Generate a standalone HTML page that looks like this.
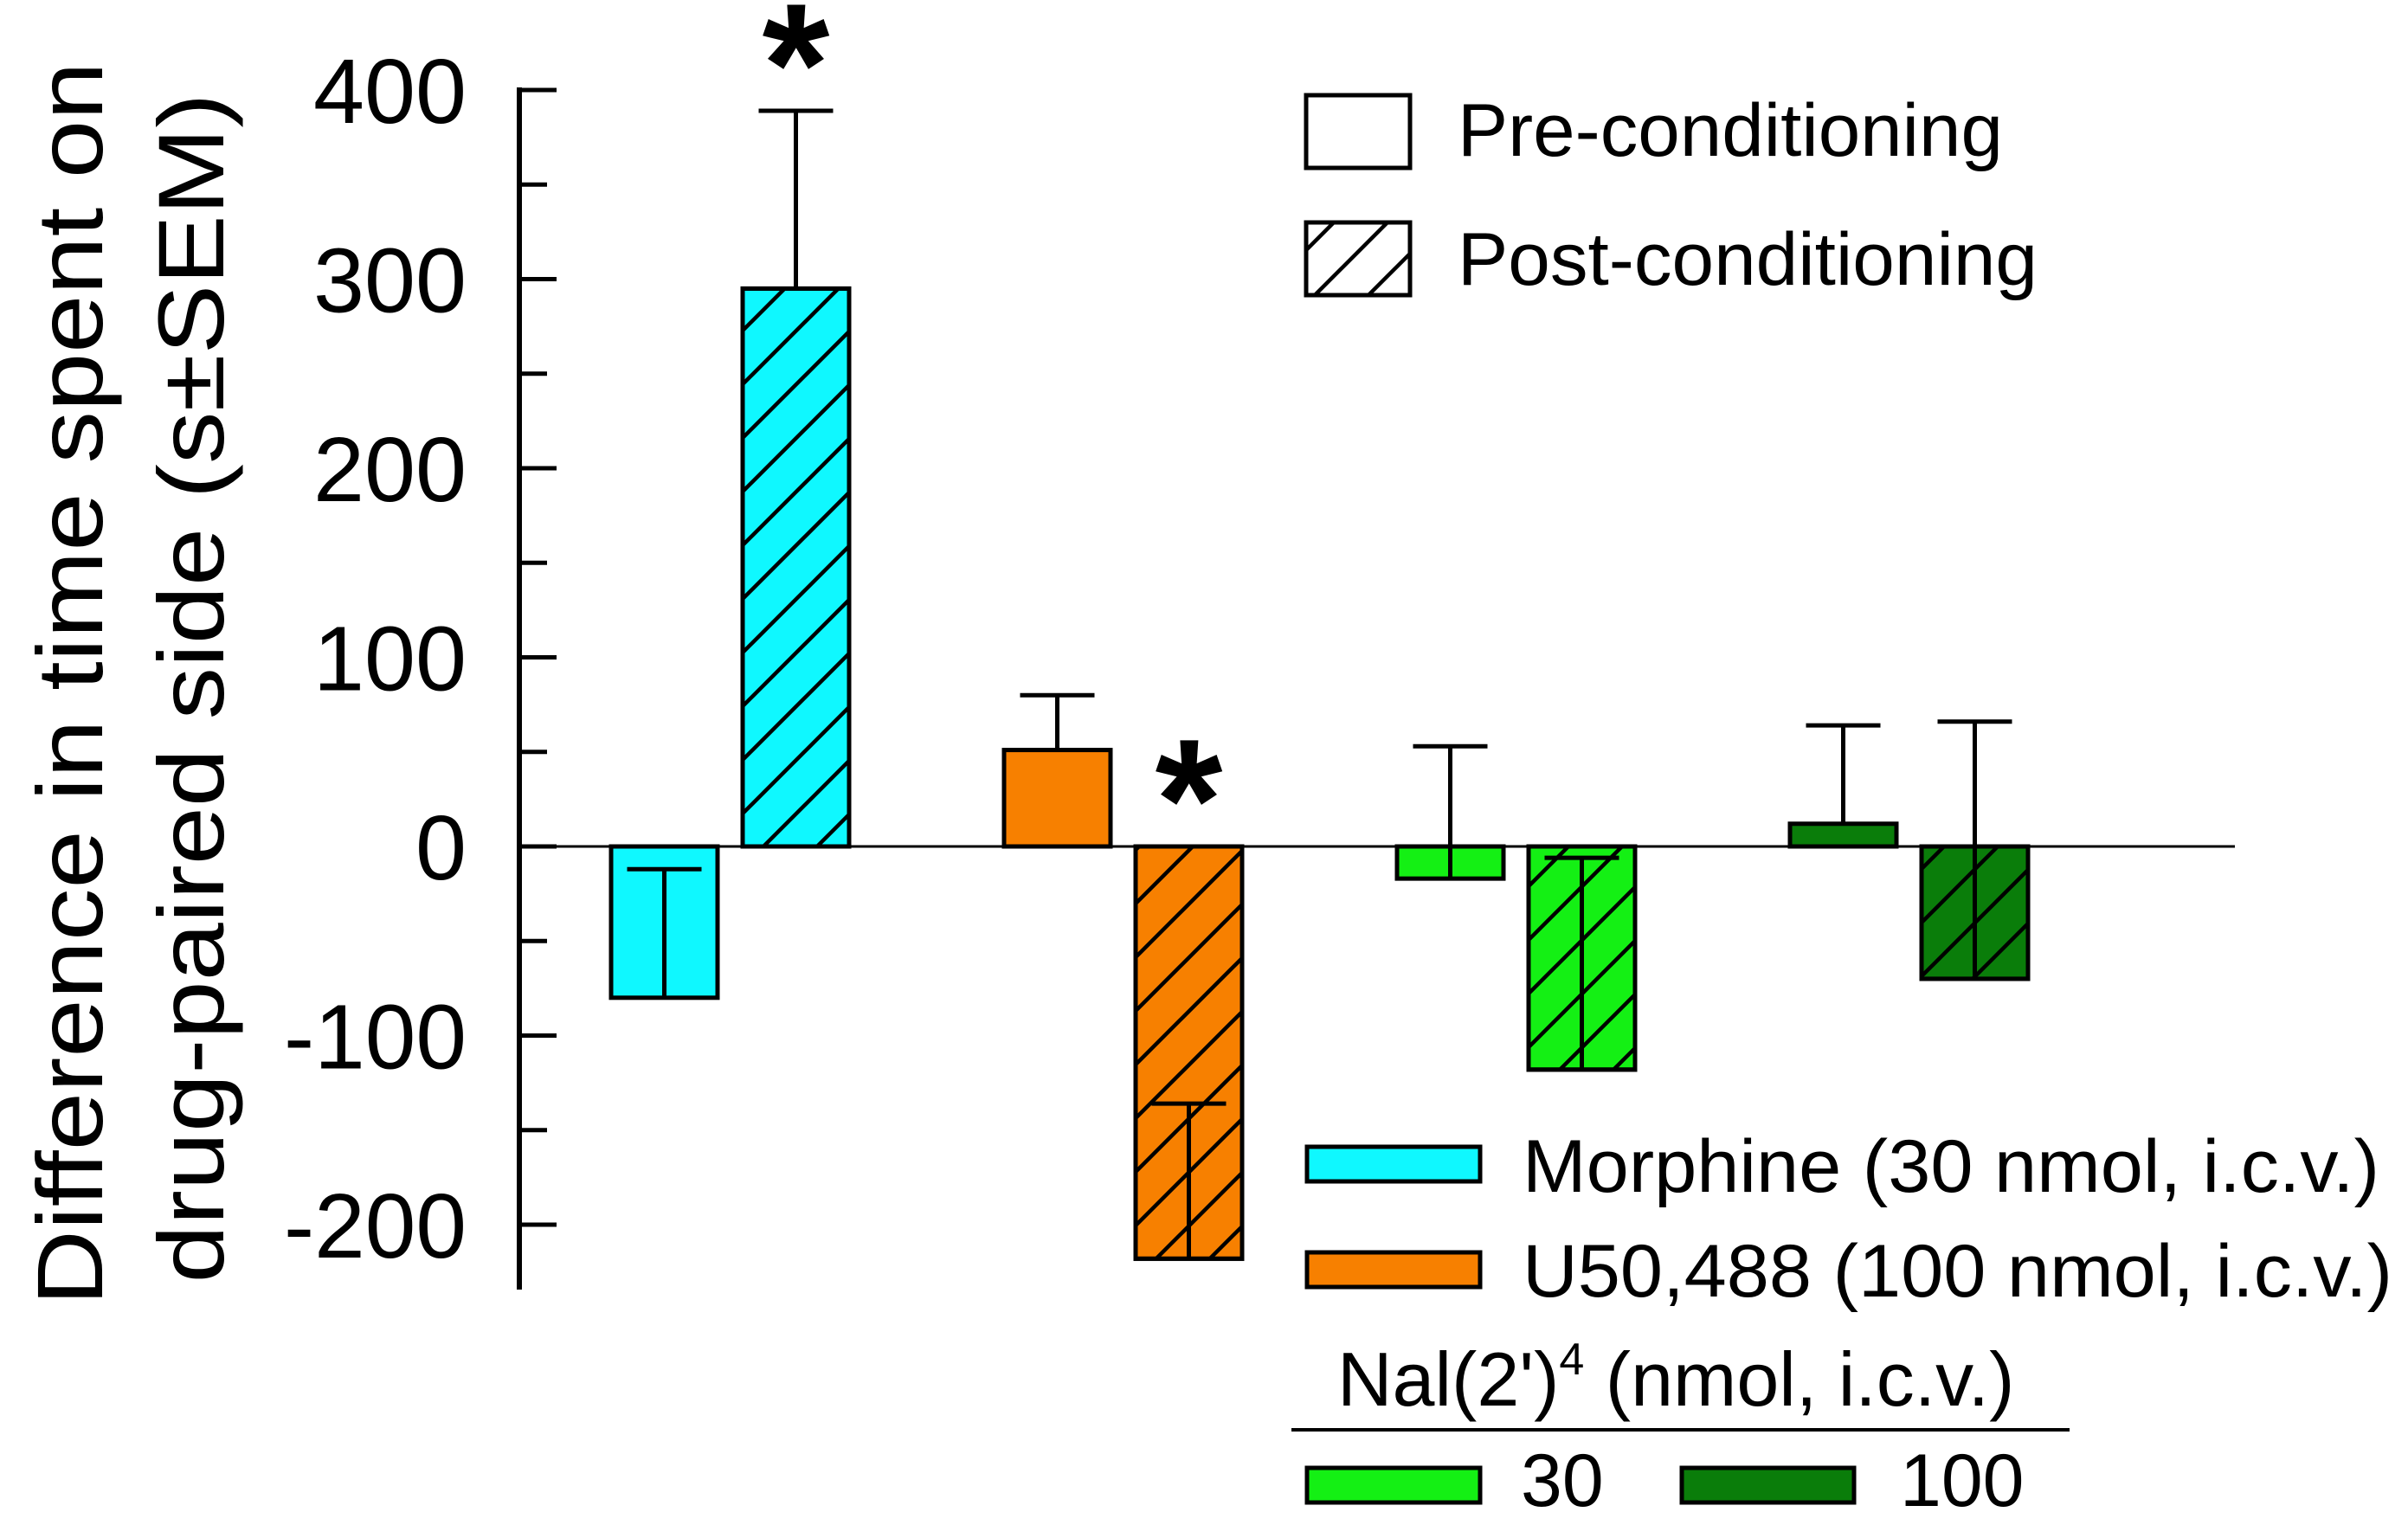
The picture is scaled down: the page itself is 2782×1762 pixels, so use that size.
<!DOCTYPE html>
<html><head><meta charset="utf-8"><style>
html,body{margin:0;padding:0;background:#fff;}
svg{display:block;font-family:"Liberation Sans",Arial,sans-serif;}
</style></head><body>
<svg id="chart" width="2782" height="1762" viewBox="0 0 2782 1762" xmlns="http://www.w3.org/2000/svg">
<defs>
<pattern id="hatch" patternUnits="userSpaceOnUse" width="62" height="62">
<path d="M-15,15 L15,-15 M0,62 L62,0 M47,77 L77,47" stroke="#000" stroke-width="4.5"/>
</pattern>
</defs>
<g id="yaxis"></g>
<g id="bars"></g>
<text transform="translate(118,790) rotate(-90)" text-anchor="middle" font-size="108" textLength="1437" lengthAdjust="spacingAndGlyphs">Difference in time spent on</text>
<text transform="translate(258,795) rotate(-90)" text-anchor="middle" font-size="108" textLength="1375" lengthAdjust="spacingAndGlyphs">drug-paired side (s±SEM)</text>
<g>
<rect x="1509" y="110" width="120" height="84" fill="#fff" stroke="#000" stroke-width="5"/>
<text x="1684" y="180" font-size="86" textLength="630" lengthAdjust="spacingAndGlyphs">Pre-conditioning</text>
<rect x="1509" y="257" width="120" height="84" fill="url(#hatch)" stroke="#000" stroke-width="5"/>
<text x="1684" y="329" font-size="86" textLength="670" lengthAdjust="spacingAndGlyphs">Post-conditioning</text>
</g>
<g>
<rect x="1510" y="1325" width="200" height="40" fill="#0ff8ff" stroke="#000" stroke-width="5"/>
<text x="1759" y="1377" font-size="86" textLength="990" lengthAdjust="spacingAndGlyphs">Morphine (30 nmol, i.c.v.)</text>
<rect x="1510" y="1447" width="200" height="40" fill="#f78000" stroke="#000" stroke-width="5"/>
<text x="1759" y="1498" font-size="86" textLength="1005" lengthAdjust="spacingAndGlyphs">U50,488 (100 nmol, i.c.v.)</text>
<text x="1545" y="1624" font-size="88">Nal(2')<tspan dy="-36" font-size="52">4</tspan><tspan dy="36"> (nmol, i.c.v.)</tspan></text>
<line x1="1492" y1="1652" x2="2391" y2="1652" stroke="#000" stroke-width="4"/>
<rect x="1510" y="1696" width="200" height="40" fill="#14f014" stroke="#000" stroke-width="5"/>
<text x="1757" y="1740" font-size="86">30</text>
<rect x="1943" y="1696" width="199" height="40" fill="#0a7d0a" stroke="#000" stroke-width="5"/>
<text x="2195" y="1740" font-size="86">100</text>
</g>
</svg>
<script>
const categories = ["Morphine pre","Morphine post","U50 pre","U50 post","Nal30 pre","Nal30 post","Nal100 pre","Nal100 post"];
const values = [-80, 295, 51, -218, -17, -118, 12, -70];
const errorEnds = [-12, 389, 80, -136, 53, -6, 64, 66];
const hatched = [false, true, false, true, false, true, false, true];
const colors = ["#0ff8ff","#0ff8ff","#f78000","#f78000","#14f014","#14f014","#0a7d0a","#0a7d0a"];
const significant = [false, true, false, true, false, false, false, false];
const yTicks = [-200, -100, 0, 100, 200, 300, 400];
const yTickLabels = ["-200","-100","0","100","200","300","400"];

const NS = "http://www.w3.org/2000/svg";
const y0 = 978, pxPer = 2.185;
function yScale(v){ return y0 - v * pxPer; }
function xScale(i){ const g = Math.floor(i/2), k = i%2; return 706 + g*454 + k*152; }
const BW = 123;
function mk(tag, attrs, parent){ const e = document.createElementNS(NS, tag); for (const k in attrs) e.setAttribute(k, attrs[k]); parent.appendChild(e); return e; }

const ax = document.getElementById('yaxis');
const axisLine = mk('line', {x1:600, y1:yScale(400)-3, x2:600, y2:1490, stroke:'#000','stroke-width':6}, ax);


for (let v = -200; v <= 400; v += 50) {
  const major = v % 100 === 0;
  const t = mk('line', {x1:600, y1:yScale(v), x2: major ? 643 : 632, y2:yScale(v), stroke:'#000','stroke-width':5}, ax);
  
  
}
yTicks.forEach((v, i) => {
  const lab = yTickLabels[i];
  const t = mk('text', {x:539, y:yScale(v)+38, 'text-anchor':'end', 'font-size':106}, ax);
  t.textContent = lab;
  t.setAttribute('textLength', lab.length * 59 - (lab[0] === '-' ? 25 : 0));
  t.setAttribute('lengthAdjust', 'spacingAndGlyphs');
  
  
});

const bars = document.getElementById('bars');
const zero = mk('line', {x1:600, y1:y0, x2:2582, y2:y0, stroke:'#000','stroke-width':3}, bars);


values.forEach((v, i) => {
  const x = xScale(i), yv = yScale(v);
  const top = Math.min(yv, y0), h = Math.abs(yv - y0);
  const r = mk('rect', {x:x, y:top, width:BW, height:h, fill:colors[i], stroke:'#000','stroke-width':5}, bars);
  
  
  if (hatched[i]) {
    const hr = mk('rect', {x:x, y:top, width:BW, height:h, fill:'url(#hatch)', stroke:'#000','stroke-width':5}, bars);
    
    
  }
  const cx = x + BW/2, ye = yScale(errorEnds[i]);
  const e1 = mk('line', {x1:cx, y1:yv, x2:cx, y2:ye, stroke:'#000','stroke-width':5}, bars);
  
  
  const e2 = mk('line', {x1:cx-43, y1:ye, x2:cx+43, y2:ye, stroke:'#000','stroke-width':5}, bars);
  
  
  if (significant[i]) {
    const sy = Math.min(ye, y0) - 25;
    const s = mk('text', {x:cx, y:sy + 40, 'text-anchor':'middle','font-size':200,'font-weight':'bold'}, bars);
    s.textContent = '*';
    
    
  }
});
</script>
</body></html>
